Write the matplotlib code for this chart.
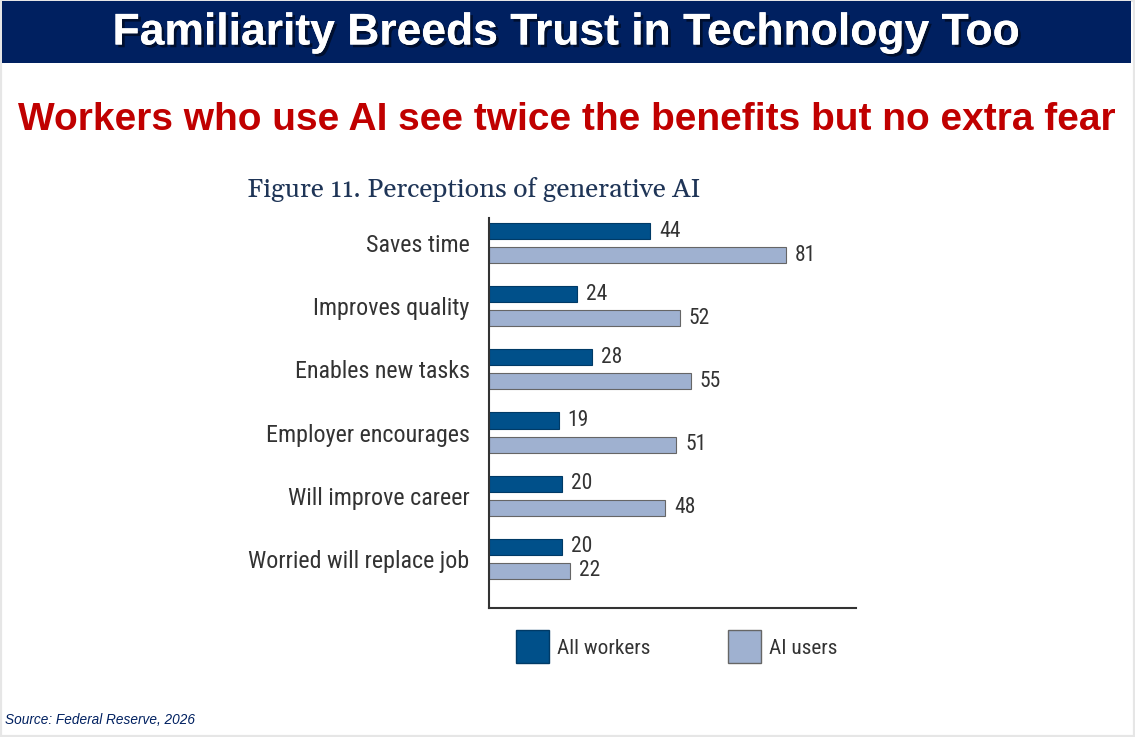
import matplotlib
matplotlib.use("Agg")
import matplotlib.pyplot as plt
import matplotlib.patheffects as pe
from matplotlib.patches import Rectangle

categories = ["Saves time", "Improves quality", "Enables new tasks",
              "Employer encourages", "Will improve career", "Worried will replace job"]
all_workers = [44, 24, 28, 19, 20, 20]
ai_users = [81, 52, 55, 51, 48, 22]
series_names = ["All workers", "AI users"]

title = "Familiarity Breeds Trust in Technology Too"
subtitle = "Workers who use AI see twice the benefits but no extra fear"
fig_title = "Figure 11. Perceptions of generative AI"
source = "Source: Federal Reserve, 2026"

NARROW = ["Roboto Condensed", "Liberation Sans"]
SERIF = ["Gelasio", "DejaVu Serif"]

DARK = "#00508a"
LIGHT = "#9fb1d0"
NAVY = "#002060"

W, H = 1135, 737
fig = plt.figure(figsize=(W / 100, H / 100), dpi=100)
fig.patch.set_facecolor("white")

fig.add_artist(Rectangle((0, 0), 1, 1, transform=fig.transFigure, fill=False,
                         edgecolor="#e6e6e6", linewidth=3))
fig.add_artist(Rectangle((2 / W, 1 - 63 / H), (1131 - 2) / W, 62 / H,
                         transform=fig.transFigure, facecolor=NAVY, edgecolor="none"))
fig.text(567 / W, 1 - 33 / H, title, ha="center", va="center", color="white",
         fontsize=32, fontweight="bold", family="Liberation Sans",
         path_effects=[pe.withSimplePatchShadow(offset=(2, -2), shadow_rgbFace="black", alpha=0.5), pe.Normal()])
fig.text(567 / W, 1 - 120 / H, subtitle, ha="center", va="center", color="#c00000",
         fontsize=28, fontweight="bold", family="Liberation Sans")
fig.text(247 / W, 1 - 190 / H, fig_title, ha="left", va="center", color="#1f3557",
         fontsize=19.3, family=SERIF)
fig.text(5 / W, 1 - 720 / H, source, ha="left", va="center", color=NAVY,
         fontsize=9.8, style="italic", family="Liberation Sans")

ax = fig.add_axes([489 / W, 1 - 608 / H, (856 - 489) / W, (608 - 218) / H])
n = len(categories)
pos = list(range(n))
off = 12 / 63
hgt = 16 / 63
ax.barh([p - off for p in pos], all_workers, height=hgt, color=DARK,
        edgecolor="#003a66", linewidth=0.8, label=series_names[0])
ax.barh([p + off for p in pos], ai_users, height=hgt, color=LIGHT,
        edgecolor="#666666", linewidth=0.8, label=series_names[1])
for p, a, b in zip(pos, all_workers, ai_users):
    ax.text(a + 2.4, p - off, str(a), va="center", ha="left", fontsize=15.5,
            color="#333333", family=NARROW)
    ax.text(b + 2.4, p + off, str(b), va="center", ha="left", fontsize=15.5,
            color="#333333", family=NARROW)

ax.set_xlim(0, 100)
ax.set_ylim(n - 1 + 49 / 63, -25 / 63)
ax.set_yticks(pos)
ax.set_yticklabels(categories, fontsize=17.3, color="#333333", family=NARROW)
ax.tick_params(axis="y", length=0, pad=14)
ax.set_xticks([])
for s in ["top", "right"]:
    ax.spines[s].set_visible(False)
for s in ["left", "bottom"]:
    ax.spines[s].set_color("#333333")
    ax.spines[s].set_linewidth(1.5)
ax.set_facecolor("none")

for x0, col, ec, lab in [(516, DARK, "#003a66", series_names[0]), (728, LIGHT, "#666666", series_names[1])]:
    fig.add_artist(Rectangle((x0 / W, 1 - 663 / H), 33 / W, 33 / H, transform=fig.transFigure,
                             facecolor=col, edgecolor=ec, linewidth=1))
    fig.text((x0 + 41) / W, 1 - 648 / H, lab, ha="left", va="center", fontsize=15.3,
             color="#333333", family=NARROW)

fig.savefig("out.png", dpi=100, facecolor="white")
